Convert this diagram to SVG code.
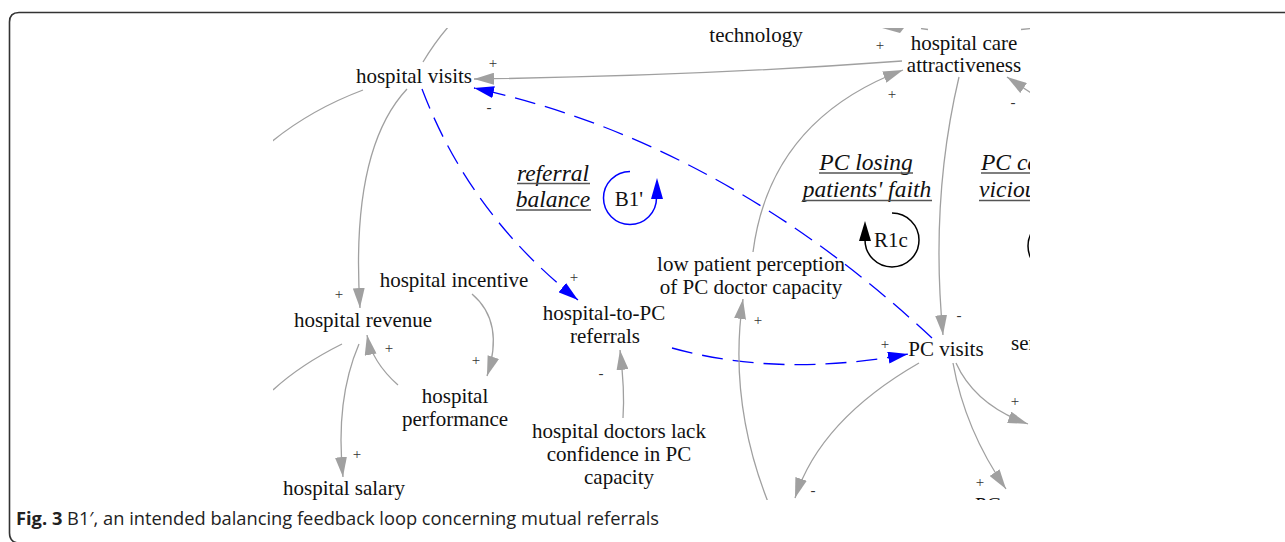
<svg xmlns="http://www.w3.org/2000/svg" width="1285" height="542" viewBox="0 0 1285 542">
<style>
.n{font-family:"Liberation Serif","Times New Roman",serif;font-size:21px;fill:#111;text-anchor:middle}
.lbl{font-family:"Liberation Serif","Times New Roman",serif;font-size:23.5px;font-style:italic;fill:#111;text-anchor:middle}
.pol{font-family:"Liberation Serif","Times New Roman",serif;font-size:15px;fill:#333;text-anchor:middle}
.g{fill:none;stroke:#a0a0a0;stroke-width:1.3}
.b{fill:none;stroke:#0000ff;stroke-width:1.3;stroke-dasharray:21 10}
.ul{stroke:#555;stroke-width:1.5}
.cap{font-family:"Open Sans","Noto Sans","Liberation Sans",sans-serif;font-size:18.3px;fill:#222}
</style>
<defs>
<clipPath id="clip"><rect x="273" y="28" width="757" height="472"/></clipPath>
<marker id="ag" markerUnits="userSpaceOnUse" markerWidth="20" markerHeight="12" refX="20" refY="6" orient="auto"><path d="M0,0 L20,6 L0,12 z" fill="#a0a0a0"/></marker>
<marker id="ab" markerUnits="userSpaceOnUse" markerWidth="20" markerHeight="12" refX="20" refY="6" orient="auto"><path d="M0,0 L20,6 L0,12 z" fill="#0000ff"/></marker>
</defs>
<rect width="1285" height="542" fill="#fff"/>
<path d="M1290 12.5 H19 Q9.5 12.5 9.5 22 V533 Q9.5 542 18 543" fill="none" stroke="#333" stroke-width="1.6"/>
<g clip-path="url(#clip)">
<g id="connectors">
<path class="g" d="M902 61 Q700 76 474 79" marker-end="url(#ag)"/>
<path class="b" d="M422 89 Q470 215 578 300" marker-end="url(#ab)"/>
<path class="b" d="M932 338 Q720 141 474 88" marker-end="url(#ab)"/>
<path class="b" d="M672 348 Q780 378 908 354" marker-end="url(#ab)"/>
<path class="g" d="M407 89 Q350 150 360 308" marker-end="url(#ag)"/>
<path class="g" d="M359 344 Q335 400 343 477" marker-end="url(#ag)"/>
<path class="g" d="M472 294 Q505 322 487 376" marker-end="url(#ag)"/>
<path class="g" d="M398 385 Q372 362 367 335" marker-end="url(#ag)"/>
<path class="g" d="M342 344 Q300 365 273 390"/>
<path class="g" d="M363 90 Q310 110 270 143"/>
<path class="g" d="M449 26 Q435 42 423 62"/>
<path class="g" d="M623 418 Q625 390 620 350" marker-end="url(#ag)"/>
<path class="g" d="M768 502 Q728 400 743 299" marker-end="url(#ag)"/>
<path class="g" d="M753 252 Q770 120 903 70" marker-end="url(#ag)"/>
<path class="g" d="M959 77 Q930 200 943 335" marker-end="url(#ag)"/>
<path class="g" d="M919 363 Q820 420 795 498" marker-end="url(#ag)"/>
<path class="g" d="M953 363 Q965 430 1006 489" marker-end="url(#ag)"/>
<path class="g" d="M956 363 Q975 405 1028 424" marker-end="url(#ag)"/>
<path class="g" d="M1040 99 L1007 77" marker-end="url(#ag)"/>
<polygon points="882,28 904,28 900,33" fill="#a0a0a0"/>
<path class="g" d="M921 28.5 L928 29.5"/>
<path class="g" d="M1021 29.5 L1031 28.5"/>
<g class="pol">
<text x="493" y="68">+</text>
<text x="489" y="112">-</text>
<text x="574" y="282">+</text>
<text x="885" y="349">+</text>
<text x="339" y="299">+</text>
<text x="357" y="459">+</text>
<text x="476" y="365">+</text>
<text x="389" y="353">+</text>
<text x="601" y="378">-</text>
<text x="758" y="325">+</text>
<text x="880" y="50">+</text>
<text x="892" y="99">+</text>
<text x="959" y="320">-</text>
<text x="813" y="495">-</text>
<text x="980" y="487">+</text>
<text x="1015" y="406">+</text>
<text x="1013" y="107">-</text>
</g>
</g>
<g id="hospital-visits"><text class="n" x="414" y="83">hospital visits</text></g>
<g id="technology"><text class="n" x="756" y="42">technology</text></g>
<g id="hospital-care-attractiveness"><text class="n" x="964" y="50">hospital care</text><text class="n" x="964" y="72">attractiveness</text></g>
<g id="loop-referral-balance">
<text class="lbl" x="553" y="181">referral</text><line class="ul" x1="517" y1="183.5" x2="590" y2="183.5"/>
<text class="lbl" x="553" y="207">balance</text><line class="ul" x1="516" y1="210" x2="591" y2="210"/>
<path d="M630 171.5 A26.5 26.5 0 1 0 656.5 198" fill="none" stroke="#0000ff" stroke-width="1.5"/>
<polygon points="657,178 651,199 663,199" fill="#0000ff"/>
<text class="n" x="629" y="206">B1'</text>
</g>
<g id="loop-pc-losing-faith">
<text class="lbl" x="866" y="170">PC losing</text><line class="ul" x1="819" y1="173" x2="913" y2="173"/>
<text class="lbl" x="867" y="197">patients' faith</text><line class="ul" x1="802" y1="200.5" x2="932" y2="200.5"/>
<path d="M892 213 A27 27 0 1 1 865 240" fill="none" stroke="#000" stroke-width="1.5"/>
<polygon points="865,221 859,241 871,241" fill="#000"/>
<text class="n" x="891" y="247">R1c</text>
</g>
<g id="loop-pc-capacity">
<text class="lbl" x="981" y="170" style="text-anchor:start">PC ca</text><line class="ul" x1="981" y1="173" x2="1030" y2="173"/>
<text class="lbl" x="979" y="197" style="text-anchor:start">viciou</text><line class="ul" x1="979" y1="200.5" x2="1030" y2="200.5"/>
<circle cx="1055" cy="246" r="27" fill="none" stroke="#000" stroke-width="1.5"/>
</g>
<g id="hospital-revenue"><text class="n" x="363" y="327">hospital revenue</text></g>
<g id="hospital-incentive"><text class="n" x="454" y="287">hospital incentive</text></g>
<g id="hospital-to-pc-referrals"><text class="n" x="604" y="320">hospital-to-PC</text><text class="n" x="605" y="343">referrals</text></g>
<g id="hospital-performance"><text class="n" x="455" y="403">hospital</text><text class="n" x="455" y="426">performance</text></g>
<g id="hospital-salary"><text class="n" x="344" y="495">hospital salary</text></g>
<g id="hospital-doctors-lack-confidence"><text class="n" x="619" y="438">hospital doctors lack</text><text class="n" x="619" y="461">confidence in PC</text><text class="n" x="619" y="484">capacity</text></g>
<g id="low-patient-perception"><text class="n" x="751" y="271">low patient perception</text><text class="n" x="751" y="294">of PC doctor capacity</text></g>
<g id="pc-visits"><text class="n" x="946" y="356">PC visits</text></g>
<g id="services"><text class="n" x="1011" y="350" style="text-anchor:start">ser</text></g>
<g id="pc"><text class="n" x="975" y="512" style="text-anchor:start">PC</text></g>
</g>
<g id="caption"><text class="cap" x="16" y="525"><tspan font-weight="bold">Fig. 3</tspan> B1′, an intended balancing feedback loop concerning mutual referrals</text></g>
</svg>
